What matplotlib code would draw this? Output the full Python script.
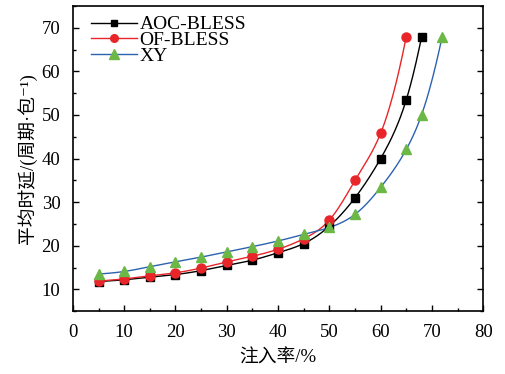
import numpy as np
import matplotlib.pyplot as plt
from matplotlib.ticker import MultipleLocator

plt.rcParams['font.family'] = ['Liberation Serif', 'Noto Sans CJK SC', 'DejaVu Sans']

x_aoc = [5, 10, 15, 20, 25, 30, 35, 40, 45, 50, 55, 60, 65, 68]
y_aoc = [11.8, 12.2, 12.8, 13.4, 14.3, 15.5, 16.7, 18.4, 20.5, 24.5, 31.0, 40.0, 53.5, 68.0]

x_of = [5, 10, 15, 20, 25, 30, 35, 40, 45, 50, 55, 60, 65]
y_of = [11.9, 12.4, 13.1, 13.8, 14.9, 16.3, 17.6, 19.2, 21.6, 25.9, 35.0, 45.8, 68.0]

x_xy = [5, 10, 15, 20, 25, 30, 35, 40, 45, 50, 55, 60, 65, 68, 72]
y_xy = [13.5, 14.1, 15.2, 16.3, 17.4, 18.6, 19.8, 21.1, 22.6, 24.2, 27.2, 33.4, 42.1, 50.1, 68.0]


def smooth(x, y, n=400):
    # natural cubic spline through log(y), only for drawing the connecting line
    x = np.asarray(x, float)
    y = np.log(np.asarray(y, float))
    k = len(x)
    h = np.diff(x)
    A = np.zeros((k, k))
    b = np.zeros(k)
    A[0, 0] = A[-1, -1] = 1
    for i in range(1, k - 1):
        A[i, i - 1] = h[i - 1]
        A[i, i] = 2 * (h[i - 1] + h[i])
        A[i, i + 1] = h[i]
        b[i] = 6 * ((y[i + 1] - y[i]) / h[i] - (y[i] - y[i - 1]) / h[i - 1])
    m = np.linalg.solve(A, b)
    xs = np.linspace(x[0], x[-1], n)
    j = np.clip(np.searchsorted(x, xs) - 1, 0, k - 2)
    t = xs - x[j]
    hj = h[j]
    c = (y[j + 1] - y[j]) / hj - hj * (2 * m[j] + m[j + 1]) / 6
    ys = y[j] + c * t + m[j] / 2 * t ** 2 + (m[j + 1] - m[j]) / (6 * hj) * t ** 3
    return xs, np.exp(ys)


fig = plt.figure(figsize=(5.06, 3.74), dpi=100)
ax = fig.add_axes([0.144, 0.168, 0.811, 0.816])

series = [
    (x_aoc, y_aoc, 'AOC-BLESS', 'black', 's', 'black', 5.5),
    (x_of, y_of, 'OF-BLESS', '#e8262a', 'o', '#e8262a', 6.5),
    (x_xy, y_xy, 'XY', '#2c62b0', '^', '#6cb846', 7.5),
]
for x, y, name, lc, mk, mc, ms in series:
    xs, ys = smooth(x, y)
    ax.plot(xs, ys, color=lc, lw=1.0, zorder=2)
    ax.plot(x, y, ls='none', marker=mk, color=mc, mec=mc, ms=ms, zorder=3)
    ax.plot([], [], color=lc, lw=1.0, marker=mk, mfc=mc, mec=mc, ms=ms - 1, label=name)

ax.set_xlim(0, 80)
ax.set_ylim(5, 75)
ax.set_xticks(range(0, 81, 10))
ax.set_yticks(range(10, 71, 10))
ax.xaxis.set_minor_locator(MultipleLocator(5))
ax.yaxis.set_minor_locator(MultipleLocator(5))
ax.tick_params(which='both', direction='in', top=False, right=True, labelsize=13.5)
ax.tick_params(which='major', length=4, width=1)
ax.tick_params(which='minor', length=2.5, width=1)
ax.tick_params(axis='x', which='major', pad=9)
ax.tick_params(axis='y', which='major', pad=9)
for s in ax.spines.values():
    s.set_linewidth(1.2)

ax.set_xlabel('注入率/%', fontsize=13.5, labelpad=6)
ax.set_ylabel('平均时延/(周期·包⁻¹)', fontsize=13.5, labelpad=3)

ax.legend(loc='upper left', frameon=False, fontsize=14, handlelength=2.4,
          handletextpad=0.1, labelspacing=-0.1, borderaxespad=0.1,
          bbox_to_anchor=(0.02, 1.0))

fig.savefig('out.png', dpi=100)
